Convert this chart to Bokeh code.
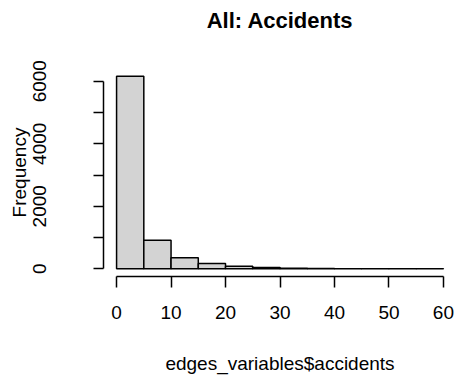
from bokeh.plotting import figure
from bokeh.models import Range1d, FixedTicker, CustomJSTickFormatter, Title
from bokeh.embed import file_html
from bokeh.resources import INLINE

# Histogram of accidents per edge, 5-wide bins
bin_edges = [0, 5, 10, 15, 20, 25, 30, 35, 40, 45, 50, 55, 60]
counts = [6160, 912, 350, 168, 83, 40, 20, 8, 4, 2, 1, 1]
x_ticks = [0, 10, 20, 30, 40, 50, 60]
y_ticks = [0, 1000, 2000, 3000, 4000, 5000, 6000]
title_text = "All: Accidents"

FONT = "Liberation Sans"

# R-style 4% padding around the data range
xmin, xmax = bin_edges[0], bin_edges[-1]
ymax = max(counts)
xpad = 0.04 * (xmax - xmin)
ypad = 0.04 * ymax

p = figure(
    width=456, height=376,
    output_backend="svg", toolbar_location=None,
    x_range=Range1d(xmin - xpad, xmax + xpad),
    y_range=Range1d(-ypad, ymax + ypad),
    min_border_left=103, min_border_right=0,
    min_border_top=68, min_border_bottom=99,
)
p.outline_line_color = None
p.grid.visible = False
p.background_fill_color = "white"
p.border_fill_color = "white"

# blank band between the plotting region and the main title
p.add_layout(Title(text=" ", text_font=FONT, text_font_size="22px",
                   standoff=3), "above")
# main title, centred over the plotting region near the top edge
p.add_layout(Title(text=title_text, align="center", vertical_align="middle",
                   text_font=FONT, text_font_size="22px",
                   text_font_style="bold", text_color="black",
                   standoff=10), "above")

p.quad(left=bin_edges[:-1], right=bin_edges[1:], bottom=0, top=counts,
       fill_color="#D3D3D3", line_color="black", line_width=1.5)

for ax in (p.xaxis[0], p.yaxis[0]):
    ax.axis_line_color = "black"
    ax.axis_line_width = 1.5
    ax.major_tick_line_color = "black"
    ax.major_tick_line_width = 1.5
    ax.minor_tick_line_color = None
    ax.major_tick_in = 0
    ax.major_label_text_font = FONT
    ax.major_label_text_font_size = "19px"
    ax.major_label_text_color = "black"
    ax.axis_label_text_font = FONT
    ax.axis_label_text_font_size = "19px"
    ax.axis_label_text_font_style = "normal"
    ax.axis_label_text_color = "black"

xa = p.xaxis[0]
xa.ticker = FixedTicker(ticks=x_ticks)
xa.bounds = (x_ticks[0], x_ticks[-1])
xa.major_tick_out = 11
xa.major_label_standoff = 18
xa.axis_label = "edges_variables$accidents"
xa.axis_label_standoff = 31

ya = p.yaxis[0]
ya.ticker = FixedTicker(ticks=y_ticks)
ya.bounds = (y_ticks[0], y_ticks[-1])
ya.major_tick_out = 10
ya.major_label_orientation = "vertical"
ya.major_label_standoff = 47
ya.formatter = CustomJSTickFormatter(code="return (tick % 2000 == 0) ? tick.toString() : '';")
ya.axis_label = "Frequency"
ya.axis_label_standoff = 1

open("out.html", "w").write(file_html(p, INLINE))
